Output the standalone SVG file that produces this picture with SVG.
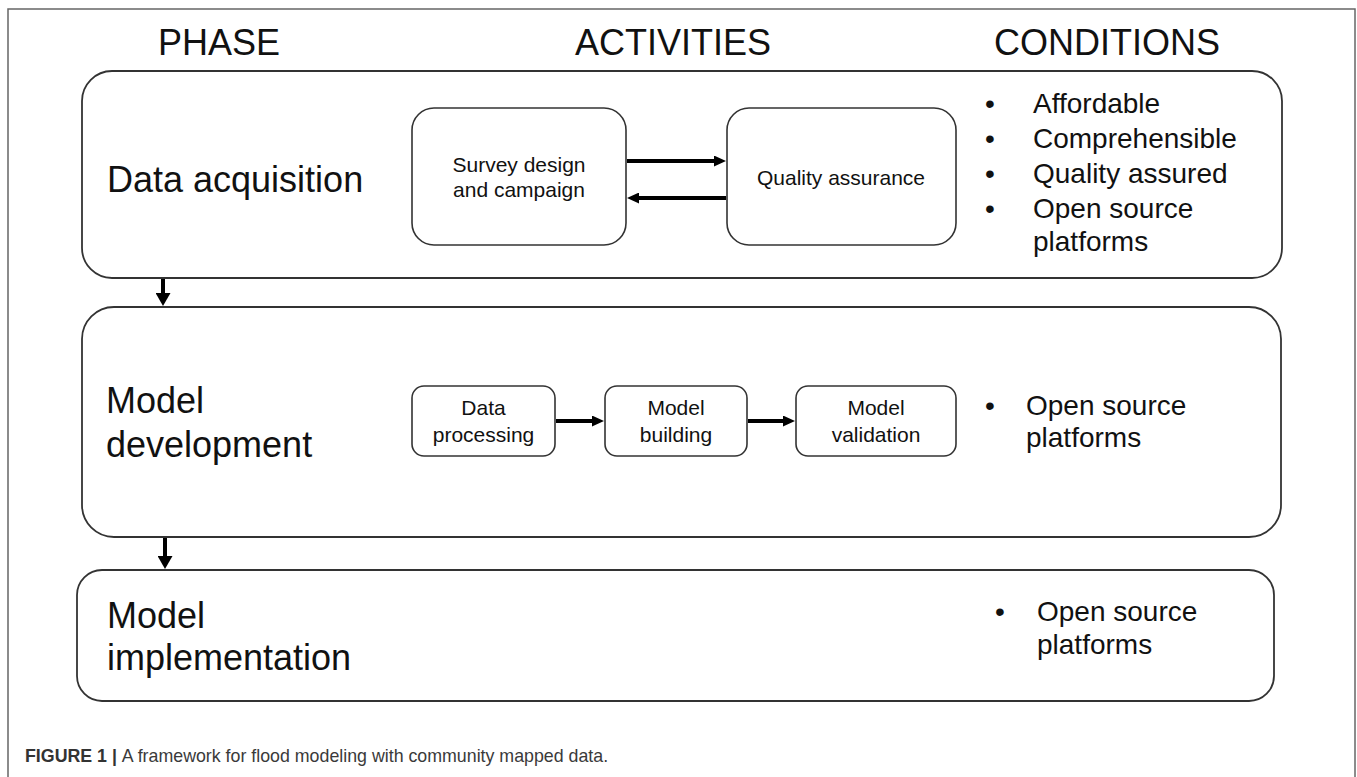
<svg xmlns="http://www.w3.org/2000/svg" width="1357" height="777" viewBox="0 0 1357 777">
<style>
  text { font-family: "Liberation Sans", Arial, sans-serif; fill: #111; }
  .hdr { font-size: 36px; }
  .phase { font-size: 36px; }
  .act { font-size: 21px; text-anchor: middle; }
  .cond { font-size: 28px; }
  .frame { fill: none; stroke: #666; stroke-width: 1.5; }
  .big { fill: #fff; stroke: #333; stroke-width: 1.8; }
  .small { fill: #fff; stroke: #333; stroke-width: 1.6; }
  .conn { stroke: #000; stroke-width: 4; fill: none; }
  .cap { font-size: 17.8px; fill: #3a3a3a; }
</style>
<defs>
  <marker id="ah" viewBox="0 0 12 11" markerUnits="userSpaceOnUse" markerWidth="12" markerHeight="11" refX="1" refY="5.5" orient="auto">
    <path d="M0,0 L12,5.5 L0,11 z" fill="#000"/>
  </marker>
  <marker id="ahBig" viewBox="0 0 13 15" markerUnits="userSpaceOnUse" markerWidth="13" markerHeight="15" refX="1" refY="7.5" orient="auto">
    <path d="M0,0 L13,7.5 L0,15 z" fill="#000"/>
  </marker>
</defs>
<rect width="1357" height="777" fill="#fff"/>
<rect class="frame" x="8" y="9" width="1347" height="800"/>

<g id="headers">
  <text class="hdr" x="158" y="55">PHASE</text>
  <text class="hdr" x="575" y="55">ACTIVITIES</text>
  <text class="hdr" x="994" y="55">CONDITIONS</text>
</g>

<g id="phase-data-acquisition">
  <rect class="big" x="82" y="71" width="1200" height="207" rx="30" ry="30"/>
  <text class="phase" x="107" y="192">Data acquisition</text>
  <text class="cond" x="985" y="113">•</text>
  <text class="cond" x="1033" y="113">Affordable</text>
  <text class="cond" x="985" y="148">•</text>
  <text class="cond" x="1033" y="148">Comprehensible</text>
  <text class="cond" x="985" y="183">•</text>
  <text class="cond" x="1033" y="183">Quality assured</text>
  <text class="cond" x="985" y="218">•</text>
  <text class="cond" x="1033" y="218">Open source</text>
  <text class="cond" x="1033" y="251">platforms</text>
</g>

<g id="survey-design">
  <rect class="small" x="412" y="108" width="214" height="137" rx="22" ry="22"/>
  <text class="act" x="519" y="172">Survey design</text>
  <text class="act" x="519" y="197">and campaign</text>
</g>

<g id="quality-assurance">
  <rect class="small" x="727" y="108" width="229" height="137" rx="22" ry="22"/>
  <text class="act" x="841" y="185">Quality assurance</text>
</g>

<g id="phase-model-development">
  <rect class="big" x="82" y="307" width="1199" height="230" rx="32" ry="32"/>
  <text class="phase" x="106" y="413">Model</text>
  <text class="phase" x="106" y="457">development</text>
  <text class="cond" x="985" y="415">•</text>
  <text class="cond" x="1026" y="415">Open source</text>
  <text class="cond" x="1026" y="447">platforms</text>
</g>

<g id="data-processing">
  <rect class="small" x="412" y="386" width="143" height="70" rx="12" ry="12"/>
  <text class="act" x="483.5" y="415">Data</text>
  <text class="act" x="483.5" y="442">processing</text>
</g>

<g id="model-building">
  <rect class="small" x="605" y="386" width="142" height="70" rx="12" ry="12"/>
  <text class="act" x="676" y="415">Model</text>
  <text class="act" x="676" y="442">building</text>
</g>

<g id="model-validation">
  <rect class="small" x="796" y="386" width="160" height="70" rx="12" ry="12"/>
  <text class="act" x="876" y="415">Model</text>
  <text class="act" x="876" y="442">validation</text>
</g>

<g id="phase-model-implementation">
  <rect class="big" x="77" y="570" width="1197" height="131" rx="25" ry="25"/>
  <text class="phase" x="107" y="628">Model</text>
  <text class="phase" x="107" y="670">implementation</text>
  <text class="cond" x="995" y="621">•</text>
  <text class="cond" x="1037" y="621">Open source</text>
  <text class="cond" x="1037" y="654">platforms</text>
</g>

<g id="connectors">
  <line class="conn" x1="163" y1="279" x2="163" y2="294" marker-end="url(#ahBig)"/>
  <line class="conn" x1="165" y1="538" x2="165" y2="557" marker-end="url(#ahBig)"/>
  <line class="conn" x1="627" y1="161" x2="715" y2="161" marker-end="url(#ah)"/>
  <line class="conn" x1="726" y1="198" x2="638" y2="198" marker-end="url(#ah)"/>
  <line class="conn" x1="556" y1="421" x2="593" y2="421" marker-end="url(#ah)"/>
  <line class="conn" x1="748" y1="421" x2="784" y2="421" marker-end="url(#ah)"/>
</g>

<g id="caption">
  <text class="cap" x="25" y="762"><tspan font-weight="bold" fill="#333">FIGURE 1 | </tspan>A framework for flood modeling with community mapped data.</text>
</g>
</svg>
